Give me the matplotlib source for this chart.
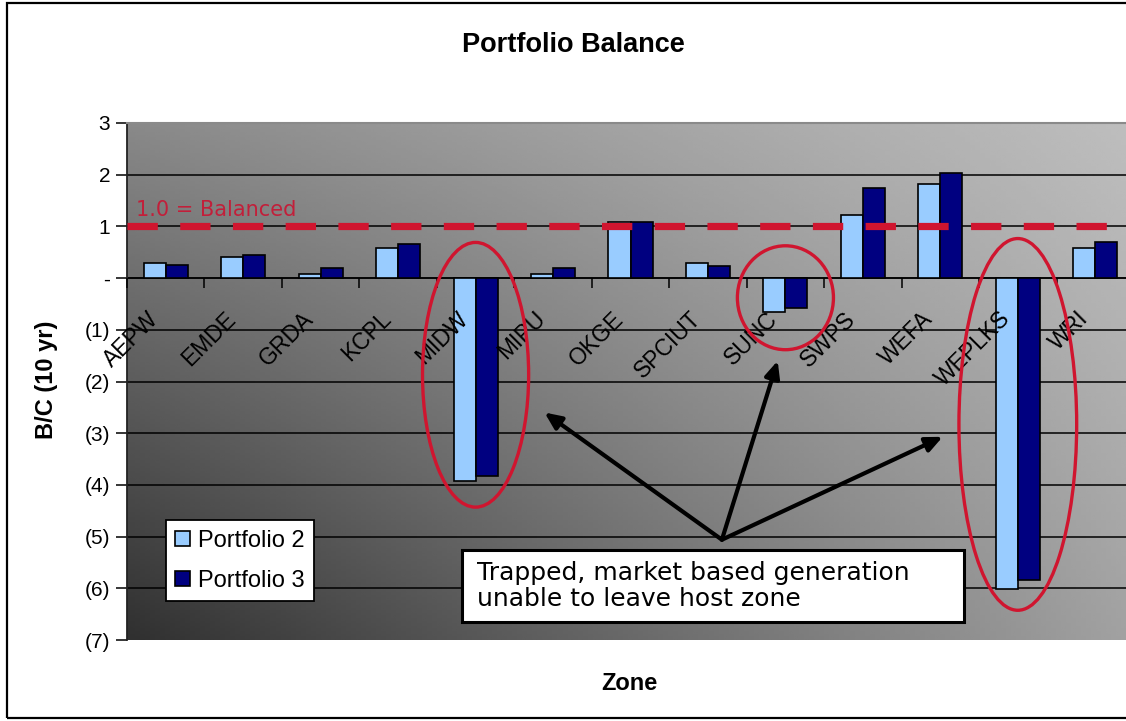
#!/usr/bin/env python3

import numpy
import matplotlib
matplotlib.use("Agg")
import matplotlib.pyplot as plt
from matplotlib.patches import Ellipse, Rectangle, Patch
from matplotlib.transforms import ScaledTranslation

## DATA

zones = ["AEPW", "EMDE", "GRDA", "KCPL", "MIDW", "MIPU", "OKGE",
	"SPCIUT", "SUNC", "SWPS", "WEFA", "WEPLKS", "WRI"]
portfolio_2 = [0.30, 0.40, 0.08, 0.58, -3.93, 0.08, 1.08, 0.30, -0.65, 1.23, 1.82, -6.02, 0.58]
portfolio_3 = [0.26, 0.45, 0.19, 0.66, -3.82, 0.19, 1.08, 0.23, -0.58, 1.74, 2.04, -5.84, 0.70]
y_ticks = [3, 2, 1, 0, -1, -2, -3, -4, -5, -6, -7]
y_tick_labels = ["3", "2", "1", "-", "(1)", "(2)", "(3)", "(4)", "(5)", "(6)", "(7)"]
balanced = 1.0
trapped_zones = ["MIDW", "SUNC", "WEPLKS"]

## STYLE

C_P2 = "#99ccff"
C_P3 = "#000080"
C_RED = "#d0152f"
SANS = ["Liberation Sans", "DejaVu Sans"]
VERDANA = ["DejaVu Sans"]

W, H, DPI = 1126, 721, 100

def _px(x, y):
	# pixel position (from top-left) -> figure fraction
	return x / W, 1 - y / H

def _gradient(ax):
	u = numpy.linspace(0, 1, 200)
	w = numpy.linspace(1, 0, 200)
	uu, ww = numpy.meshgrid(u, w)
	# corner grey levels: bottom-left, bottom-right, top-left, top-right
	bl, br, tl, tr = 48, 162, 137, 190
	v = bl * (1 - uu) * (1 - ww) + br * uu * (1 - ww) + tl * (1 - uu) * ww + tr * uu * ww
	ax.imshow(v / 255, cmap = "gray", vmin = 0, vmax = 1, extent = (0, 1, 0, 1),
		transform = ax.transAxes, aspect = "auto", zorder = 0, interpolation = "bilinear")

if __name__ == "__main__":
	plt.rcParams["font.family"] = SANS
	fig = plt.figure(figsize = (W / DPI, H / DPI), dpi = DPI)

	# outer chart frame
	fig.patches.append(Rectangle(_px(7, 718), 1.2, (718 - 3) / H, transform = fig.transFigure,
		fill = False, edgecolor = "black", lw = 1.6))

	ax = fig.add_axes([127 / W, 81 / H, 1007 / W, 517 / H])
	_gradient(ax)

	xs = numpy.arange(len(zones))
	bw = 0.285
	ax.bar(xs - bw / 2, portfolio_2, bw, color = C_P2, edgecolor = "black", lw = 1.2, zorder = 3, label = "Portfolio 2")
	ax.bar(xs + bw / 2, portfolio_3, bw, color = C_P3, edgecolor = "black", lw = 1.2, zorder = 3, label = "Portfolio 3")

	ax.set_xlim(-0.5, len(zones) - 0.5)
	ax.set_ylim(min(y_ticks), max(y_ticks))

	for y in y_ticks[1:-1]:
		ax.axhline(y, color = "black", lw = 1.1, zorder = 1)

	# balanced line
	ax.axhline(balanced, color = C_RED, lw = 5.2, dashes = (4.2, 3.1), zorder = 4)
	ax.text(-0.38, balanced + 0.12, "1.0 = Balanced", color = "#c21f3a", fontsize = 15,
		family = VERDANA, va = "bottom", ha = "left", zorder = 5)

	# axes styling
	ax.set_yticks(y_ticks)
	ax.set_yticklabels(y_tick_labels, fontsize = 15)
	ax.tick_params(axis = "y", direction = "out", length = 8, width = 1.1, pad = 4, colors = "black")
	ax.spines["left"].set_color("#222222")
	ax.spines["left"].set_linewidth(1.3)
	ax.spines["right"].set_visible(False)
	ax.spines["top"].set_color("#8a8a8a")
	ax.spines["top"].set_linewidth(1.5)
	ax.spines["bottom"].set_position(("data", 0))
	ax.spines["bottom"].set_color("black")
	ax.spines["bottom"].set_linewidth(1.1)
	ax.spines["bottom"].set_zorder(2)

	ax.set_xticks(xs)
	ax.set_xticks(numpy.arange(len(zones) + 1) - 0.5, minor = True)
	ax.tick_params(axis = "x", which = "major", length = 0, pad = 21)
	ax.tick_params(axis = "x", which = "minor", direction = "out", length = 7, width = 1.1, colors = "black")
	ax.set_xticklabels(zones, fontsize = 16.5, rotation = 45, ha = "right", rotation_mode = "anchor")
	shift = ScaledTranslation(-19 / DPI, 0, fig.dpi_scale_trans)
	for label in ax.get_xticklabels():
		label.set_transform(label.get_transform() + shift)
	ax.xaxis.set_zorder(3.5)

	# trapped zones circled
	ellipses = {
		"MIDW": (-1.87, 1.37, 5.12),
		"SUNC": (-0.38, 1.24, 2.01),
		"WEPLKS": (-2.83, 1.52, 7.19),
	}
	for name in trapped_zones:
		cy, ew, eh = ellipses[name]
		ax.add_patch(Ellipse((zones.index(name), cy), ew, eh, fill = False,
			edgecolor = C_RED, lw = 2.4, zorder = 6))

	base = (7.18, -5.06)
	targets = [(4.89, -2.60), (7.90, -1.60), (10.03, -3.07)]
	for tx, ty in targets:
		ax.annotate("", xy = (tx, ty), xytext = base, zorder = 7,
			arrowprops = dict(arrowstyle = "-|>,head_length=1.0,head_width=0.45", color = "black",
				lw = 3, shrinkA = 0, shrinkB = 0))

	# annotation box
	ax.add_patch(Rectangle(((462 - 127) / 1007, (640 - 622) / 517), 502 / 1007, 72 / 517,
		transform = ax.transAxes, facecolor = "white", edgecolor = "black", lw = 2.2, zorder = 8))
	ax.text((477 - 127) / 1007, (640 - 586) / 517,
		"Trapped, market based generation\nunable to leave host zone",
		transform = ax.transAxes, fontsize = 18, family = VERDANA, va = "center", ha = "left",
		linespacing = 1.12, zorder = 9)

	# legend
	handles = [Patch(facecolor = C_P2, edgecolor = "black", lw = 1.2),
		Patch(facecolor = C_P3, edgecolor = "black", lw = 1.2)]
	leg = ax.legend(handles, ["Portfolio 2", "Portfolio 3"], loc = "lower left",
		bbox_to_anchor = ((166 - 127) / 1007, (640 - 601) / 517), borderaxespad = 0,
		fontsize = 17, frameon = True, fancybox = False, framealpha = 1,
		handlelength = 0.6, handleheight = 0.6, handletextpad = 0.35,
		labelspacing = 0.75, borderpad = 0.4)
	leg.get_frame().set_edgecolor("black")
	leg.get_frame().set_linewidth(1.3)
	leg.set_zorder(10)

	fig.text(*_px(573, 45), "Portfolio Balance", fontsize = 19.5, fontweight = "bold", ha = "center", va = "center")
	fig.text(*_px(47, 380), "B/C (10 yr)", fontsize = 17, fontweight = "bold", rotation = 90,
		ha = "center", va = "center")
	fig.text(*_px(629, 683), "Zone", fontsize = 17, fontweight = "bold", ha = "center", va = "center")

	fig.savefig("out.png", dpi = DPI)
